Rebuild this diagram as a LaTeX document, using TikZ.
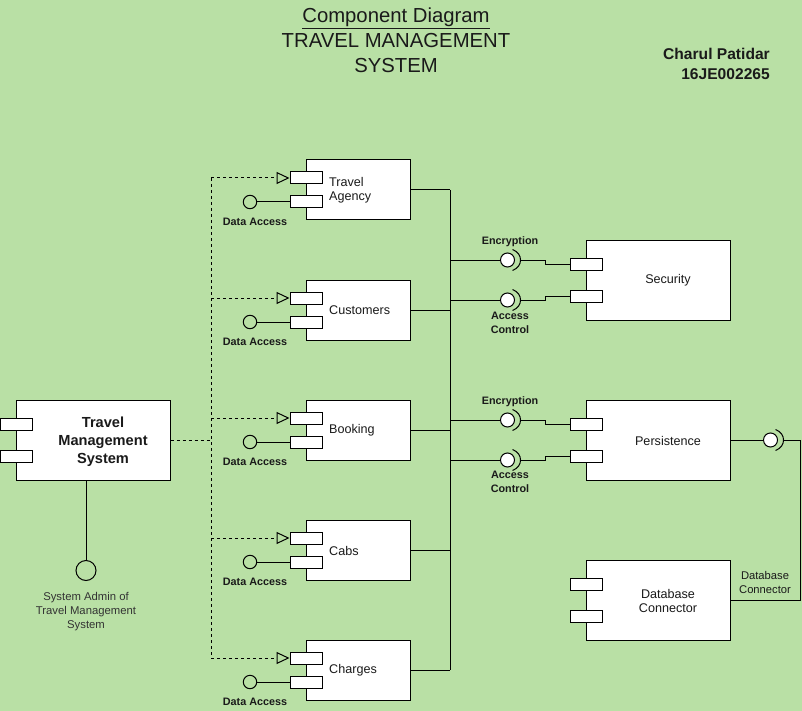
\documentclass[tikz,border=0pt]{standalone}
\usepackage{fontspec}
\setmainfont{Liberation Sans}
\usetikzlibrary{arrows.meta,calc}
\definecolor{bgc}{HTML}{B9E0A5}
\definecolor{txt}{HTML}{1A1A1A}
\definecolor{txtg}{HTML}{333333}
\begin{document}
\begin{tikzpicture}[x=1pt,y=-1pt,
  comp/.style={draw=black, fill=white, line width=1pt, rectangle, inner sep=0pt},
  port/.style={draw=black, fill=white, line width=1pt, rectangle, inner sep=0pt, minimum width=32pt, minimum height=12pt},
  ball/.style={draw=black, fill=white, line width=1pt, circle, inner sep=0pt, minimum size=14pt},
  ballopen/.style={draw=black, line width=1pt, circle, inner sep=0pt, minimum size=13.4pt},
  ln/.style={draw=black, line width=1pt},
  dep/.style={draw=black, line width=1pt, dash pattern=on 3pt off 3pt},
  deparrow/.style={dep, -{Triangle[open, length=13pt, width=12pt, line width=1pt]}},
  lbl/.style={font=\fontsize{10.8}{14}\selectfont\bfseries, text=txt, inner sep=0pt, align=center},
  cname/.style={font=\fontsize{12.6}{14}\selectfont, text=txt, inner sep=0pt, align=left},
  cnamec/.style={font=\fontsize{12.6}{14}\selectfont, text=txt, inner sep=0pt, align=center},
  small/.style={font=\fontsize{11.2}{14}\selectfont, text=txt, inner sep=0pt, align=center}
]
\fill[bgc] (0,0) rectangle (802,711);
\useasboundingbox (0,0) rectangle (802,711);

% Title
\node[font=\fontsize{20.3}{25}\selectfont, text=txt, align=center, inner sep=0pt] (title) at (396,40)
  {\underline{Component Diagram}\\TRAVEL MANAGEMENT\\SYSTEM};
\node[font=\fontsize{15.6}{19.5}\selectfont\bfseries, text=txt, align=right, inner sep=0pt, anchor=east] (author) at (770,64)
  {Charul Patidar\\16JE002265};

% Left components
\foreach \nm/\cy/\lab in {ta/190/{Travel\\Agency}, cu/310/Customers, bo/430/Booking, ca/550/Cabs, ch/670/Charges} {
  \node[comp, minimum width=104pt, minimum height=60pt] (\nm) at (358,\cy) {};
  \node[port] (\nm-p1) at (306,\cy-12) {};
  \node[port] (\nm-p2) at (306,\cy+12) {};
  \node[cname, anchor=west] (\nm-t) at (329,\cy+0.5) {\lab};
  \node[ballopen] (\nm-da) at (250,\cy+12) {};
  \node[lbl] (\nm-dl) at (255,\cy+32) {Data Access};
  \coordinate (\nm-d) at (211,\cy-12);
  \coordinate (\nm-b) at (450,\cy);
  \draw[deparrow] (\nm-d) -- (\nm-p1.west);
  \draw[ln] (\nm-da) -- (\nm-p2.west);
  \draw[ln] (\nm.east) -- (\nm-b);
}
\draw[ln] (ta-b) -- (ch-b);

% Travel Management System
\node[comp, minimum width=154pt, minimum height=80pt] (tms) at (93,440) {};
\node[port] (tms-p1) at (16,424) {};
\node[port] (tms-p2) at (16,456) {};
\node[font=\fontsize{14.6}{18}\selectfont\bfseries, text=txt, align=center, inner sep=0pt] (tms-t) at (103,442)
  {Travel\\Management\\System};
\coordinate (tms-d) at (211,440);
\draw[dep] (tms.east) -- (tms-d);
\draw[dep] (ta-d) -- (ch-d);

\node[draw=black, line width=1pt, circle, inner sep=0pt, minimum size=20pt] (adm) at (86,570.5) {};
\draw[ln] (adm |- tms.south) -- (adm.north);
\node[font=\fontsize{11.3}{14}\selectfont, text=txtg, align=center, inner sep=0pt] (adm-t) at (86,612)
  {System Admin of\\Travel Management\\System};

% Right components
\foreach \nm/\cy/\lab in {sec/280/Security, per/440/Persistence, dbc/600/{Database\\Connector}} {
  \node[comp, minimum width=144pt, minimum height=80pt] (\nm) at (658,\cy) {};
  \node[port] (\nm-p1) at (586,\cy-16) {};
  \node[port] (\nm-p2) at (586,\cy+16) {};
  \node[cnamec] (\nm-t) at (668,\cy+0.5) {\lab};
}

% Provided / required interfaces
\foreach \nm/\y/\p in {se/260/sec-p1, sa/300/sec-p2, pe/420/per-p1, pa/460/per-p2} {
  \coordinate (\nm-b) at (450,\y);
  \node[ball] (\nm) at (507.5,\y) {};
  \draw[ln] (\nm-b) -- (\nm.west);
  \draw[ln] ($(\nm)+(5,-10.5)$) .. controls ($(\nm)+(15.7,-6.5)$) and ($(\nm)+(15.7,6.5)$) .. ($(\nm)+(5,10.5)$);
  \coordinate (\nm-k) at ($(\nm)+(13,0)$);
  \draw[ln] (\nm-k) -- ++(24.5,0) |- (\p.west);
}
\node[lbl] (se-l) at (510,242) {Encryption};
\node[lbl] (sa-l) at (510,322.5) {Access\\Control};
\node[lbl] (pe-l) at (510,402) {Encryption};
\node[lbl] (pa-l) at (510,482) {Access\\Control};

% Persistence -> Database Connector
\node[ball] (pr) at (770.5,440) {};
\draw[ln] (per.east) -- (pr.west);
\draw[ln] ($(pr)+(5,-10.5)$) .. controls ($(pr)+(15.7,-6.5)$) and ($(pr)+(15.7,6.5)$) .. ($(pr)+(5,10.5)$);
\coordinate (pr-k) at ($(pr)+(13,0)$);
\coordinate (pr-c) at (800,440);
\draw[ln] (pr-k) -- (pr-c) |- (dbc.east);
\node[small] (dbc-l) at (765,582) {Database\\Connector};
\end{tikzpicture}
\end{document}
